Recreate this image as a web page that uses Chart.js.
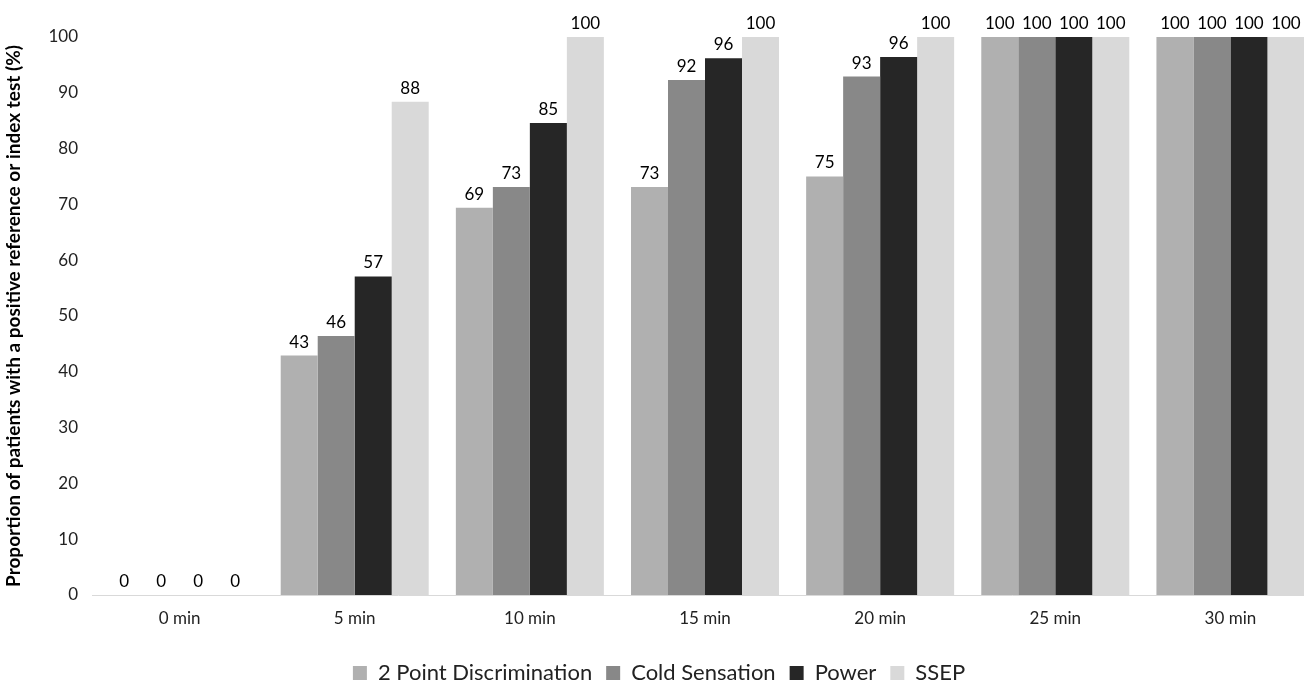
<!DOCTYPE html>
<html>
<head>
<meta charset="utf-8">
<script src="https://cdn.jsdelivr.net/npm/chart.js@4"></script>
<style>
    body { margin: 0; background: #fff; overflow: hidden; }
    #wrap { width: 1318px; height: 694px; }
</style>
</head>
<body>
<div id="wrap"><canvas id="bar-chart"></canvas></div>
<script>
const categories = ['0 min', '5 min', '10 min', '15 min', '20 min', '25 min', '30 min']
const seriesNames = ['2 Point Discrimination', 'Cold Sensation', 'Power', 'SSEP']
const twoPoint = [0, 42.9, 69.4, 73.1, 75.0, 100, 100]
const coldSensation = [0, 46.4, 73.1, 92.3, 92.9, 100, 100]
const power = [0, 57.1, 84.6, 96.2, 96.4, 100, 100]
const ssep = [0, 88.4, 100, 100, 100, 100, 100]
const yTicks = [0, 10, 20, 30, 40, 50, 60, 70, 80, 90, 100]

const colors = ['#b0b0b0', '#888888', '#262626', '#d9d9d9']
const fontFamily = 'Lato, "Open Sans", sans-serif'

// draw rounded values above each bar
const barLabels = {
    id: 'barLabels',
    afterDatasetsDraw(chart) {
        const ctx = chart.ctx
        ctx.save()
        ctx.font = '17px ' + fontFamily
        ctx.fillStyle = '#000'
        ctx.textAlign = 'center'
        ctx.textBaseline = 'bottom'
        chart.data.datasets.forEach((ds, i) => {
            chart.getDatasetMeta(i).data.forEach((bar, j) => {
                ctx.fillText(Math.round(ds.data[j]), bar.x, bar.y - 5)
            })
        })
        ctx.restore()
    }
}

const seriesData = [twoPoint, coldSensation, power, ssep]

const config = {
    type: 'bar',
    data: {
        labels: categories,
        datasets: seriesNames.map((name, i) => ({
            label: name,
            data: seriesData[i],
            backgroundColor: colors[i],
            borderWidth: 0,
            barPercentage: 1.0,
            categoryPercentage: 0.845
        }))
    },
    options: {
        responsive: true,
        maintainAspectRatio: false,
        animation: false,
        layout: {
            padding: { top: 37, right: 0, bottom: 0, left: 0 }
        },
        scales: {
            x: {
                grid: { display: false, drawTicks: false },
                border: { color: '#d9d9d9', width: 1 },
                ticks: {
                    color: '#222',
                    padding: 13,
                    font: { family: fontFamily, size: 17 }
                },
                afterFit: function(scale) { scale.height = 53 }
            },
            y: {
                min: 0,
                max: 100,
                afterBuildTicks: function(scale) {
                    scale.ticks = yTicks.map(v => ({ value: v }))
                },
                grid: { display: false, drawTicks: false },
                border: { display: false },
                ticks: {
                    color: '#222',
                    padding: 14,
                    font: { family: fontFamily, size: 17 }
                },
                title: {
                    display: true,
                    text: 'Proportion of patients with a positive reference or index test (%)',
                    color: '#000',
                    padding: { top: 2, bottom: 6 },
                    font: { family: fontFamily, size: 19, weight: 'bold' }
                },
                afterFit: function(scale) { scale.width = 92 }
            }
        },
        plugins: {
            legend: {
                position: 'bottom',
                labels: {
                    color: '#222',
                    boxWidth: 14,
                    boxHeight: 14,
                    padding: 14,
                    font: { family: fontFamily, size: 22 }
                }
            },
            tooltip: { enabled: false }
        }
    },
    plugins: [barLabels]
}

new Chart(document.getElementById('bar-chart'), config)
</script>
</body>
</html>
